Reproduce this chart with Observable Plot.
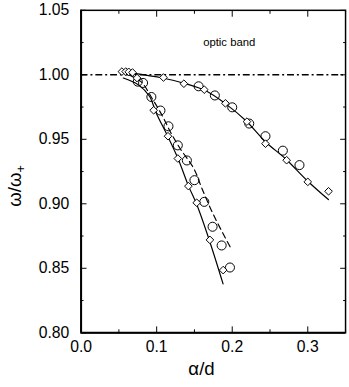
<!DOCTYPE html>
<html>
<head>
<meta charset="utf-8">
<script src="https://cdn.jsdelivr.net/npm/d3@7"></script>
<script src="https://cdn.jsdelivr.net/npm/@observablehq/plot@0.6"></script>
<style>
  html, body { margin: 0; padding: 0; background: #fff; overflow: hidden; }
  #chart { width: 349px; height: 387px; overflow: hidden; }
</style>
</head>
<body>
<div id="chart"></div>
<script>
// Diamond markers (α/d, ω/ω+)
const diamondX = [0.054, 0.059, 0.063, 0.068, 0.074, 0.096, 0.115, 0.128, 0.142, 0.153, 0.1705, 0.188,
                  0.109, 0.136, 0.163, 0.191, 0.2195, 0.244, 0.272, 0.300, 0.3275];
const diamondY = [1.0025, 1.0025, 1.0023, 1.0018, 0.9975, 0.9725, 0.9524, 0.9351, 0.9137, 0.9008, 0.8720, 0.8486,
                  0.9979, 0.9931, 0.9885, 0.9779, 0.9637, 0.9466, 0.9338, 0.9170, 0.9097];
// Circle markers
const circleX = [0.075, 0.082, 0.093, 0.105, 0.1156, 0.128, 0.140, 0.150, 0.163, 0.174, 0.186, 0.197,
                 0.1555, 0.177, 0.200, 0.2225, 0.244, 0.267, 0.289];
const circleY = [0.9947, 0.9937, 0.9828, 0.9723, 0.9601, 0.9453, 0.9336, 0.9183, 0.9015, 0.8822, 0.8677, 0.8506,
                 0.9911, 0.9840, 0.9748, 0.9622, 0.9524, 0.9412, 0.9300];
// Curves
const solidLeftX = [0.0558, 0.0753, 0.0905, 0.0991, 0.1143, 0.1282, 0.1422, 0.1532, 0.1701, 0.1879];
const solidLeftY = [0.9975, 0.9924, 0.9834, 0.9708, 0.9527, 0.9351, 0.9137, 0.8992, 0.8710, 0.8379];
const dashedX = [0.0623, 0.0792, 0.0948, 0.1078, 0.1182, 0.1312, 0.1490, 0.1597, 0.1749, 0.1974];
const dashedY = [1.0000, 0.9947, 0.9809, 0.9679, 0.9557, 0.9427, 0.9275, 0.9122, 0.8918, 0.8664];
const solidUpperX = [0.0662, 0.1078, 0.1360, 0.1662, 0.1922, 0.2182, 0.2442, 0.2701, 0.3004, 0.3273];
const solidUpperY = [1.0015, 0.9975, 0.9935, 0.9873, 0.9771, 0.9644, 0.9479, 0.9351, 0.9173, 0.9033];
// Reference level and annotation
const bandLevel = [1.0];
const annotation = [{x: 0.196, y: 1.0255, text: "optic band"}];
// Ticks
const xMajor = [0.0, 0.1, 0.2, 0.3];
const xMinor = [0.05, 0.15, 0.25, 0.35];
const yMajor = [0.80, 0.85, 0.90, 0.95, 1.00, 1.05];
const yMinor = [0.825, 0.875, 0.925, 0.975, 1.025];

const pts = (xs, ys) => xs.map((x, i) => ({x, y: ys[i]}));
const font = "'Liberation Sans', Arial, Helvetica, sans-serif";

const chart = Plot.plot({
  width: 355,
  height: 387,
  marginLeft: 82,
  marginRight: 4,
  marginTop: 10,
  marginBottom: 49,
  style: {fontFamily: font, fontSize: "16px", color: "#000", background: "#fff", overflow: "visible"},
  x: {domain: [0, 0.35]},
  y: {domain: [0.80, 1.05]},
  marks: [
    Plot.ruleY(bandLevel, {stroke: "#000", strokeWidth: 1.4, strokeDasharray: "7,3,2,3"}),
    Plot.line(pts(solidLeftX, solidLeftY), {x: "x", y: "y", curve: "catmull-rom", stroke: "#000", strokeWidth: 1.2}),
    Plot.line(pts(dashedX, dashedY), {x: "x", y: "y", curve: "catmull-rom", stroke: "#000", strokeWidth: 1.2, strokeDasharray: "6,4"}),
    Plot.line(pts(solidUpperX, solidUpperY), {x: "x", y: "y", curve: "catmull-rom", stroke: "#000", strokeWidth: 1.2}),
    Plot.dot(pts(circleX, circleY), {x: "x", y: "y", r: 4.6, stroke: "#000", fill: "none", strokeWidth: 1}),
    Plot.dot(pts(diamondX, diamondY), {x: "x", y: "y", r: 3.5, symbol: "diamond2", stroke: "#000", fill: "#fff", strokeWidth: 1}),
    Plot.text(annotation, {x: "x", y: "y", text: "text", fontSize: 11.5, fill: "#000"}),
    // axes
    Plot.axisY(yMajor, {anchor: "left", tickSize: -6, tickPadding: 18, tickFormat: d3.format(".2f"), label: null, fontSize: 16}),
    Plot.axisY(yMinor, {anchor: "left", tickSize: -3, tickFormat: () => "", label: null}),
    Plot.axisY(yMajor, {anchor: "right", tickSize: -6, tickFormat: () => "", label: null}),
    Plot.axisY(yMinor, {anchor: "right", tickSize: -3, tickFormat: () => "", label: null}),
    Plot.axisX(xMajor, {anchor: "bottom", tickSize: -6, tickPadding: 14, tickFormat: d3.format(".1f"), label: null, fontSize: 16}),
    Plot.axisX(xMinor, {anchor: "bottom", tickSize: -3, tickFormat: () => "", label: null}),
    Plot.axisX(xMajor, {anchor: "top", tickSize: -6, tickFormat: () => "", label: null}),
    Plot.axisX(xMinor, {anchor: "top", tickSize: -3, tickFormat: () => "", label: null}),
    Plot.frame({stroke: "#000", strokeWidth: 1.5}),
    Plot.ruleX([0], {stroke: "#000", strokeWidth: 2}),
    Plot.ruleY([0.80], {stroke: "#000", strokeWidth: 2})
  ]
});

document.getElementById("chart").appendChild(chart);

const svg = d3.select(chart);
// x-axis label
svg.append("text")
  .attr("x", 205).attr("y", 381)
  .attr("text-anchor", "middle")
  .attr("font-family", font).attr("font-size", 19).attr("fill", "#000")
  .text("α/d");
// y-axis label with subscript +
const yl = svg.append("text")
  .attr("transform", "translate(21,189) rotate(-90)")
  .attr("text-anchor", "middle")
  .attr("font-family", font).attr("font-size", 19).attr("fill", "#000");
yl.append("tspan").text("ω/ω");
yl.append("tspan").attr("font-size", 13).attr("dy", 4).text("+");
</script>
</body>
</html>
